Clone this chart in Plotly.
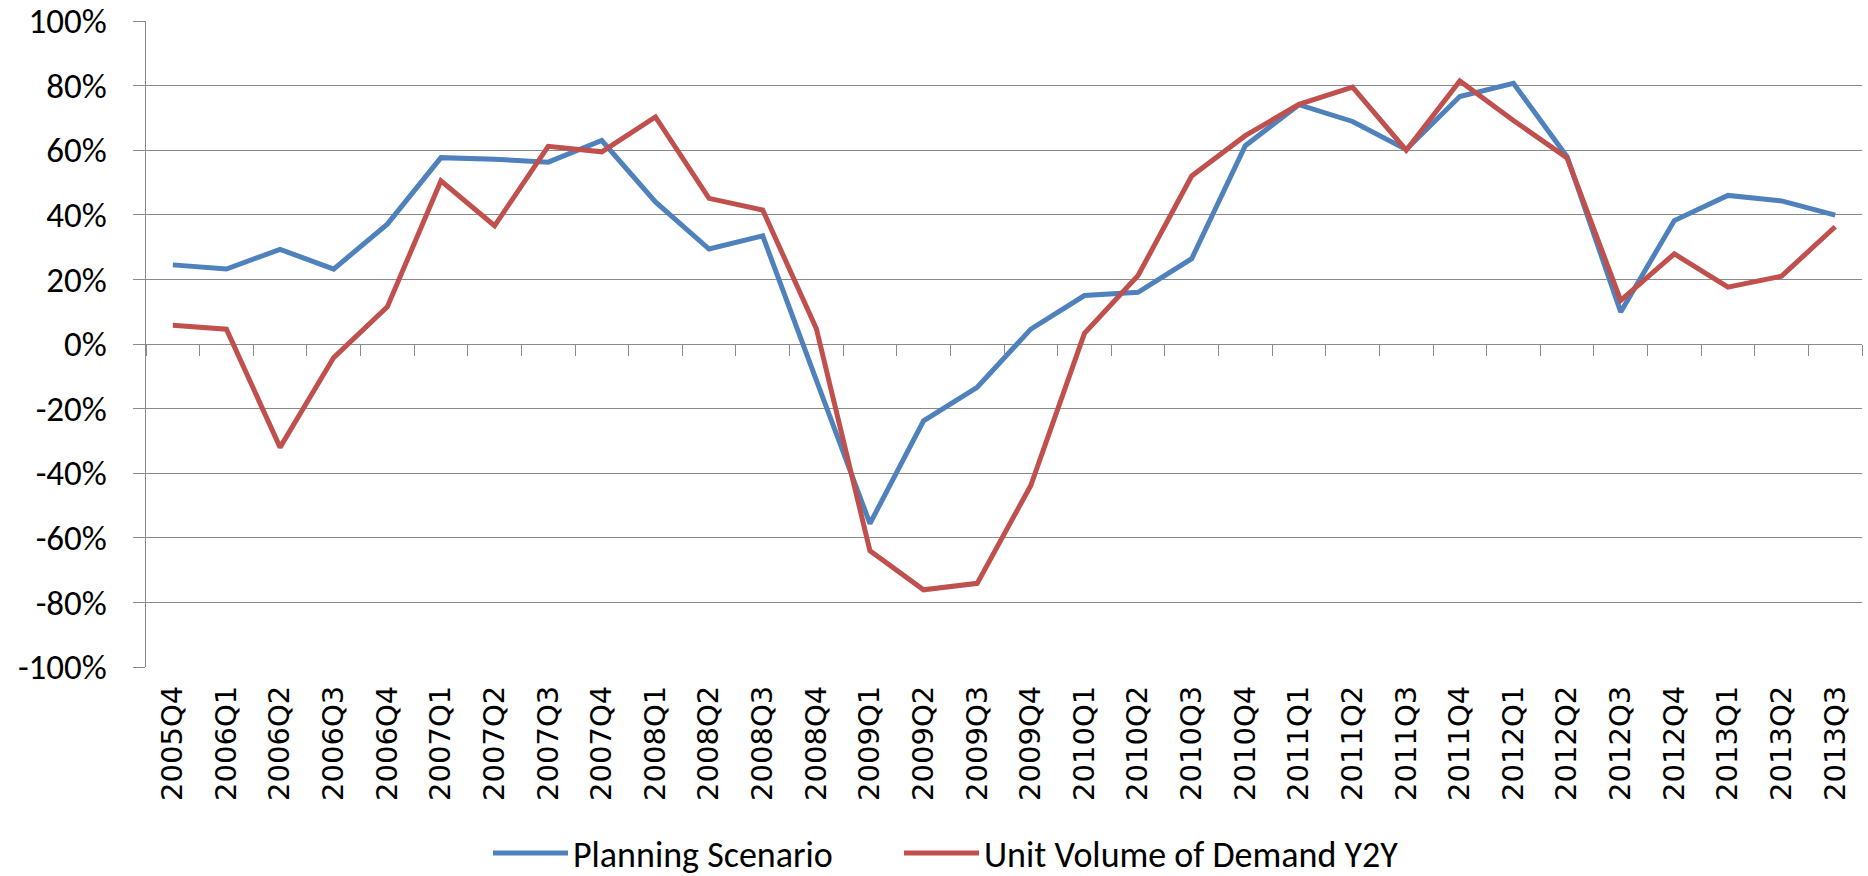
import plotly.graph_objects as go

quarters = ["2005Q4",
            "2006Q1", "2006Q2", "2006Q3", "2006Q4",
            "2007Q1", "2007Q2", "2007Q3", "2007Q4",
            "2008Q1", "2008Q2", "2008Q3", "2008Q4",
            "2009Q1", "2009Q2", "2009Q3", "2009Q4",
            "2010Q1", "2010Q2", "2010Q3", "2010Q4",
            "2011Q1", "2011Q2", "2011Q3", "2011Q4",
            "2012Q1", "2012Q2", "2012Q3", "2012Q4",
            "2013Q1", "2013Q2", "2013Q3"]

planning_scenario = [0.245,
                     0.232, 0.293, 0.232, 0.371,
                     0.577, 0.572, 0.563, 0.630,
                     0.440, 0.294, 0.335, -0.112,
                     -0.556, -0.238, -0.134, 0.046,
                     0.150, 0.160, 0.264, 0.614,
                     0.741, 0.689, 0.602, 0.766,
                     0.807, 0.580, 0.099, 0.382,
                     0.460, 0.443, 0.399]

unit_volume_y2y = [0.058,
                   0.046, -0.320, -0.042, 0.115,
                   0.505, 0.366, 0.612, 0.595,
                   0.703, 0.451, 0.415, 0.048,
                   -0.640, -0.761, -0.741, -0.438,
                   0.033, 0.212, 0.520, 0.645,
                   0.742, 0.795, 0.600, 0.814,
                   0.692, 0.576, 0.135, 0.279,
                   0.176, 0.210, 0.363]

y_tick_values = [-1.0, -0.8, -0.6, -0.4, -0.2, 0.0, 0.2, 0.4, 0.6, 0.8, 1.0]
y_tick_labels = ["-100%", "-80%", "-60%", "-40%", "-20%", "0%",
                 "20%", "40%", "60%", "80%", "100%"]

series_names = ["Planning Scenario", "Unit Volume of Demand Y2Y"]
series_colors = ["#4F81BD", "#C0504D"]
series_legends = ["legend", "legend2"]

grid = "#8A8A8A"
label_font = "Carlito, Liberation Sans Narrow, Lato, sans-serif"

W, H = 1868, 876
ML, MR, MT, MB = 146, 6, 21, 209
PW, PH = W - ML - MR, H - MT - MB

fig = go.Figure()
for name, vals, col, lg in zip(series_names, [planning_scenario, unit_volume_y2y],
                               series_colors, series_legends):
    fig.add_trace(go.Scatter(x=quarters, y=vals, name=name, mode="lines",
                             line=dict(color=col, width=5), legend=lg))

# invisible helper trace so the category tick marks can sit on the 0% line
fig.add_trace(go.Scatter(x=quarters, y=planning_scenario, xaxis="x2", mode="lines",
                         line=dict(width=0, color="rgba(0,0,0,0)"), showlegend=False,
                         hoverinfo="skip"))

legend_common = dict(orientation="h", xanchor="left", y=-0.288, yanchor="middle",
                     font=dict(family=label_font, size=36, color="#000000"),
                     itemwidth=75, bgcolor="rgba(0,0,0,0)")

fig.update_layout(
    width=W, height=H,
    margin=dict(l=ML, r=MR, t=MT, b=MB, autoexpand=False),
    plot_bgcolor="white", paper_bgcolor="white",
    showlegend=True,
    legend=dict(x=(488 - ML) / PW, **legend_common),
    legend2=dict(x=(899 - ML) / PW, **legend_common),
    xaxis=dict(type="category", categoryorder="array", categoryarray=quarters,
               range=[-0.5, len(quarters) - 0.5], automargin=False,
               showgrid=False, showline=False, zeroline=False, ticks="",
               tickangle=-90, ticklabelstandoff=12,
               tickfont=dict(family="DejaVu Sans, sans-serif", size=29, color="#000000")),
    xaxis2=dict(type="category", categoryorder="array", categoryarray=quarters,
                range=[-0.5, len(quarters) - 0.5], overlaying="x", anchor="free",
                position=0.5, showgrid=False, showline=False, zeroline=False,
                ticks="outside", tickson="boundaries", ticklen=11, tickwidth=1.3,
                tickcolor=grid, showticklabels=False, automargin=False),
    yaxis=dict(range=[-1, 1], tickmode="array", tickvals=y_tick_values,
               ticktext=y_tick_labels, automargin=False,
               showgrid=True, gridcolor=grid, gridwidth=1.3,
               showline=True, linecolor=grid, linewidth=1.3, zeroline=False,
               ticks="outside", ticklen=12, tickwidth=1.3, tickcolor=grid,
               ticklabelstandoff=19,
               tickfont=dict(family=label_font, size=35, color="#000000")),
)

fig.write_html("out.html", config={"displayModeBar": False},
               post_script="document.body.style.margin='0px';document.body.style.overflow='hidden';")
